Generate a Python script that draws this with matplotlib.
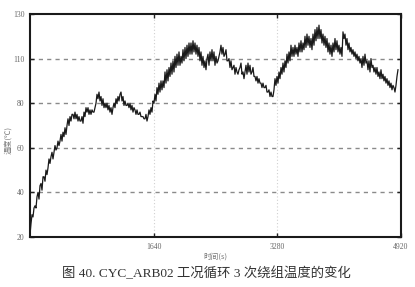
import numpy as np
import matplotlib
matplotlib.use("Agg")
import matplotlib.pyplot as plt

# temperature readings (axis units: gridlines at 20,40,60,80,100,120)
temps = [
    21, 26, 30, 29, 33, 34, 33, 38, 40, 37, 43, 44, 41, 47, 47, 45, 50, 48, 51, 55,
    53, 56, 58, 55, 58, 61, 59, 60, 63, 61, 63,
    66, 63, 67, 65, 69, 66, 70, 73, 70, 74, 72, 75, 75, 73, 76, 73, 75, 72, 74, 72,
    72, 74, 71, 76, 74, 78, 76, 78, 75, 77, 75, 77, 76, 76, 78, 80, 84, 82,
    85, 81, 83, 79, 82, 78, 80, 78, 80, 77, 79, 76, 78, 75, 78, 80, 78, 82, 80, 83,
    81, 84, 85, 81, 83, 79, 81, 79, 79, 80, 78, 80, 77, 79, 76, 78, 77, 75, 77, 75,
    75, 76, 74, 74, 74, 73, 73, 75, 72, 74, 77, 75, 78, 76, 81,
    80, 84, 81, 87, 84, 89, 85, 90, 86, 90, 87, 94, 89, 95, 90, 96, 92, 98, 93, 99,
    94, 101, 96, 102, 97, 103, 97, 101, 98, 104, 99, 105, 100, 106, 101, 107, 102,
    107, 102, 108, 103, 107, 102, 106, 101, 105, 99, 103, 97, 101, 96, 99, 95, 100,
    102, 97, 103, 99, 104, 99, 103, 97, 101, 98, 99, 101, 103, 106, 102, 105, 101,
    102, 104, 99, 99, 100, 96, 99, 95, 96, 97, 93, 96, 94, 93, 95, 96, 98, 93, 94,
    91, 94, 97, 93, 98, 94, 97, 93, 94, 96, 92, 92, 90, 92, 89, 91, 89, 89, 87, 89,
    87, 87, 88, 85, 85, 86, 83, 85, 83, 83, 86, 91, 88, 92, 89, 94, 91, 96, 93, 98,
    94, 99, 96, 102, 98, 103, 99, 106, 101, 105, 101, 106, 102, 105, 101, 107, 103,
    108, 103, 107, 104, 110, 105, 111, 106, 110, 105, 109, 104, 111, 106, 113, 108,
    114, 109, 115, 109, 113, 107, 111, 106, 110, 105, 109, 103, 107, 102, 106, 101,
    107, 103, 109, 104, 108, 103, 106, 102, 105, 101, 112, 109, 111, 106, 109, 104,
    107, 103, 105, 102, 104, 101, 103, 100, 102, 99, 101, 98, 100, 96, 101, 97, 102,
    98, 99, 95, 99, 94, 100, 96, 97, 94, 96, 93, 96, 92, 94, 91, 95, 91, 93, 90, 92,
    89, 91, 88, 90, 87, 89, 86, 88, 87, 85, 88, 92, 95,
]
t_end = 4880  # seconds, last sample
times = np.linspace(0, t_end, len(temps))

x_ticks = [1640, 3280, 4920]
x_ticklabels = ["1640", "3280", "4920"]
y_ticks = [20, 40, 60, 80, 100, 120]
y_ticklabels = ["20", "40", "60", "80", "110", "130"]

fig = plt.figure(figsize=(4.15, 2.87), dpi=100)
ax = fig.add_axes([30 / 415, 1 - 237 / 287, 371 / 415, 223 / 287])

for y in y_ticks[1:-1]:
    ax.axhline(y, color="#8a8a8a", lw=1.0, ls=(0, (3, 3)), zorder=1)
for x in x_ticks[:-1]:
    ax.axvline(x, color="#d0d0d0", lw=0.8, ls=(0, (1, 2)), zorder=1)

ax.plot(times, temps, color="#1a1a1a", lw=0.9, zorder=3)

ax.set_xlim(0, 4920)
ax.set_ylim(20, 120)
ax.set_xticks(x_ticks)
ax.set_xticklabels(x_ticklabels)
ax.set_yticks(y_ticks)
ax.set_yticklabels(y_ticklabels)
ax.tick_params(direction="in", length=3, width=1, colors="#222222",
               labelcolor="#666666", labelsize=5.5, top=True, right=True, pad=4)
for lab in ax.get_xticklabels() + ax.get_yticklabels():
    lab.set_family("Liberation Serif")
for s in ax.spines.values():
    s.set_linewidth(1.5)
    s.set_color("#1a1a1a")

cjk = ["Noto Sans CJK SC", "DejaVu Sans"]
fig.text(215 / 415, 1 - 257 / 287, "时间(s)", ha="center", va="center",
         fontsize=5.5, color="#777777", family=cjk)
fig.text(8 / 415, 1 - 140 / 287, "温度(℃)", ha="center", va="center",
         fontsize=5.5, color="#777777", rotation=90, family=cjk)
fig.text(206 / 415, 1 - 273 / 287, "图 40. CYC_ARB02 工况循环 3 次绕组温度的变化",
         ha="center", va="center", fontsize=9.6, color="#333333",
         family=["Liberation Serif", "Noto Sans CJK SC"])

fig.savefig("out.png", dpi=100)
